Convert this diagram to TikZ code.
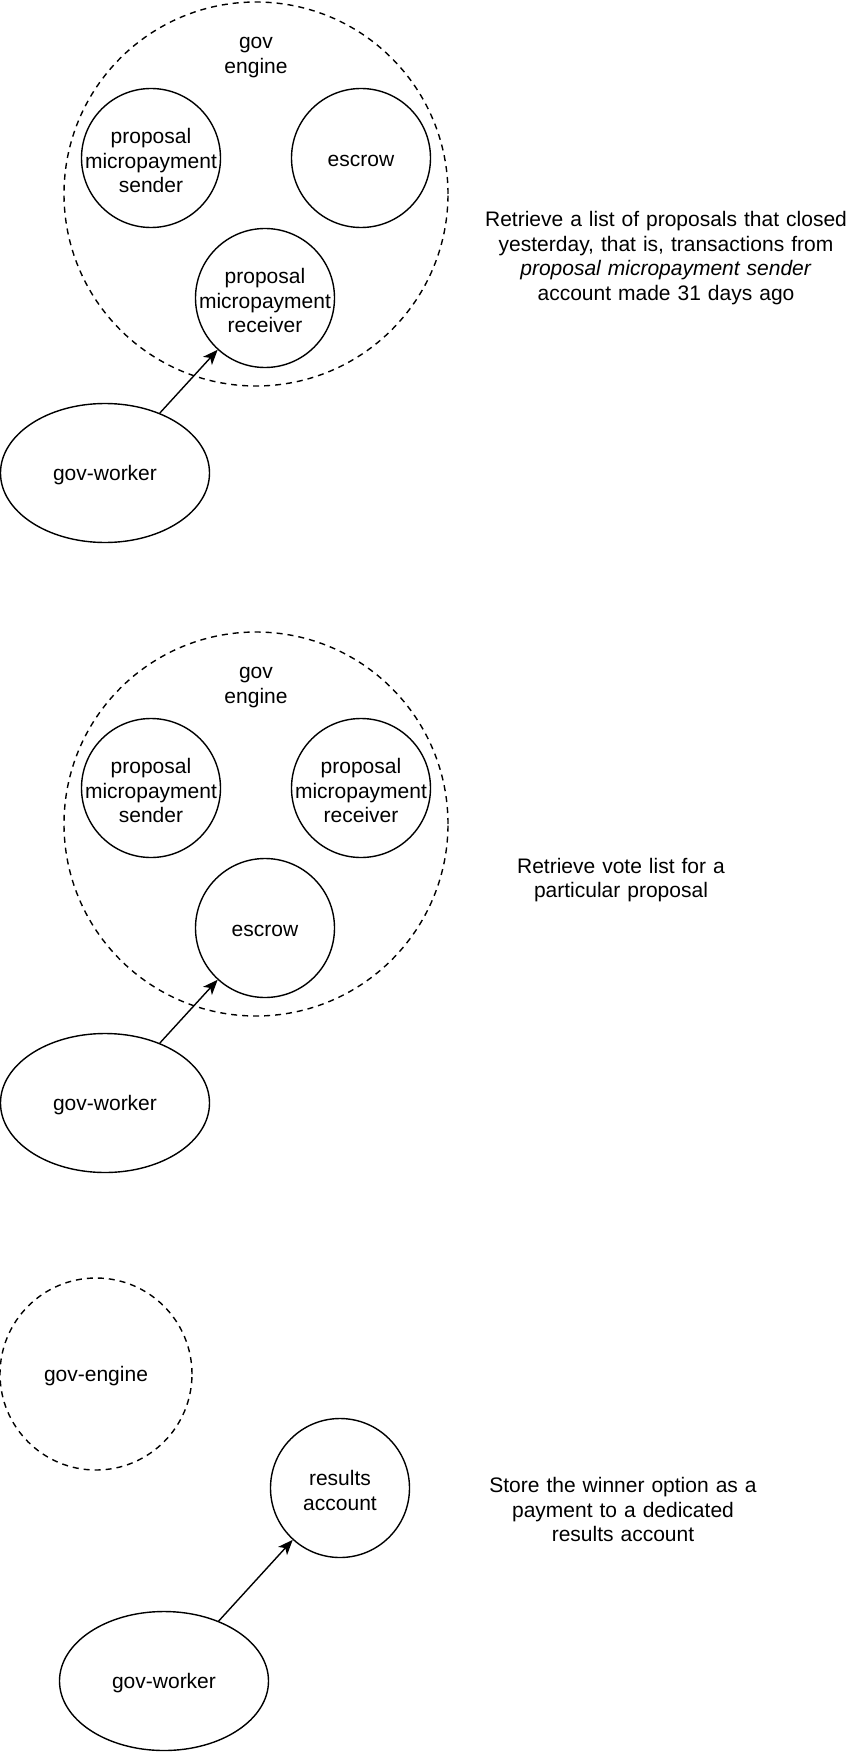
\documentclass[tikz,border=0pt]{standalone}
\usepackage{fontspec}
\setmainfont{Liberation Sans}
\usetikzlibrary{shapes.geometric,arrows.meta}
\begin{document}
\begin{tikzpicture}[x=1pt,y=-1pt,
  every node/.style={font=\fontsize{21}{24.5}\selectfont, align=center},
  txt/.style={yshift=-2.5pt, inner sep=0pt},
  acct/.style={draw, circle, line width=1.4pt, minimum size=139pt, inner sep=0pt},
  grp/.style={draw, circle, line width=1.4pt, dash pattern=on 6pt off 5pt, inner sep=0pt},
  worker/.style={draw, ellipse, line width=1.4pt, minimum width=209pt, minimum height=139pt, inner sep=0pt},
  conn/.style={line width=1.4pt, -{Stealth[length=15pt,width=12pt,inset=4pt]}},
  note/.style={text width=420pt, txt}
]
\useasboundingbox (0,0) rectangle (854,1752);
% Section 1
\node[grp, minimum size=384pt] (g1) at (256,194) {};
\node[txt] (g1t) at (256,55) {gov\\engine};
\node[acct, label={[txt]center:{proposal\\micropayment\\sender}}] (s1) at (151,158) {};
\node[acct, label={[txt]center:escrow}] (e1) at (361,158) {};
\node[acct, label={[txt]center:{proposal\\micropayment\\receiver}}] (r1) at (265,298) {};
\node[worker, label={[txt]center:gov-worker}] (w1) at (105,473) {};
\draw[conn] (w1) -- (r1);
\node[note] (n1) at (666,255.5) {Retrieve a list of proposals that closed\\yesterday, that is, transactions from\\\textit{proposal micropayment sender}\\account made 31 days ago};
% Section 2
\node[grp, minimum size=384pt] (g2) at (256,824) {};
\node[txt] (g2t) at (256,685) {gov\\engine};
\node[acct, label={[txt]center:{proposal\\micropayment\\sender}}] (s2) at (151,788) {};
\node[acct, label={[txt]center:{proposal\\micropayment\\receiver}}] (r2) at (361,788) {};
\node[acct, label={[txt]center:escrow}] (e2) at (265,928) {};
\node[worker, label={[txt]center:gov-worker}] (w2) at (105,1103) {};
\draw[conn] (w2) -- (e2);
\node[note] (n2) at (621,877.5) {Retrieve vote list for a\\particular proposal};
% Section 3
\node[grp, minimum size=192pt, label={[txt]center:gov-engine}] (g3) at (96,1374) {};
\node[acct, label={[txt]center:{results\\account}}] (ra) at (340,1488) {};
\node[worker, label={[txt]center:gov-worker}] (w3) at (164,1681) {};
\draw[conn] (w3) -- (ra);
\node[note] (n3) at (623,1507) {Store the winner option as a\\payment to a dedicated\\results account};
\end{tikzpicture}
\end{document}
